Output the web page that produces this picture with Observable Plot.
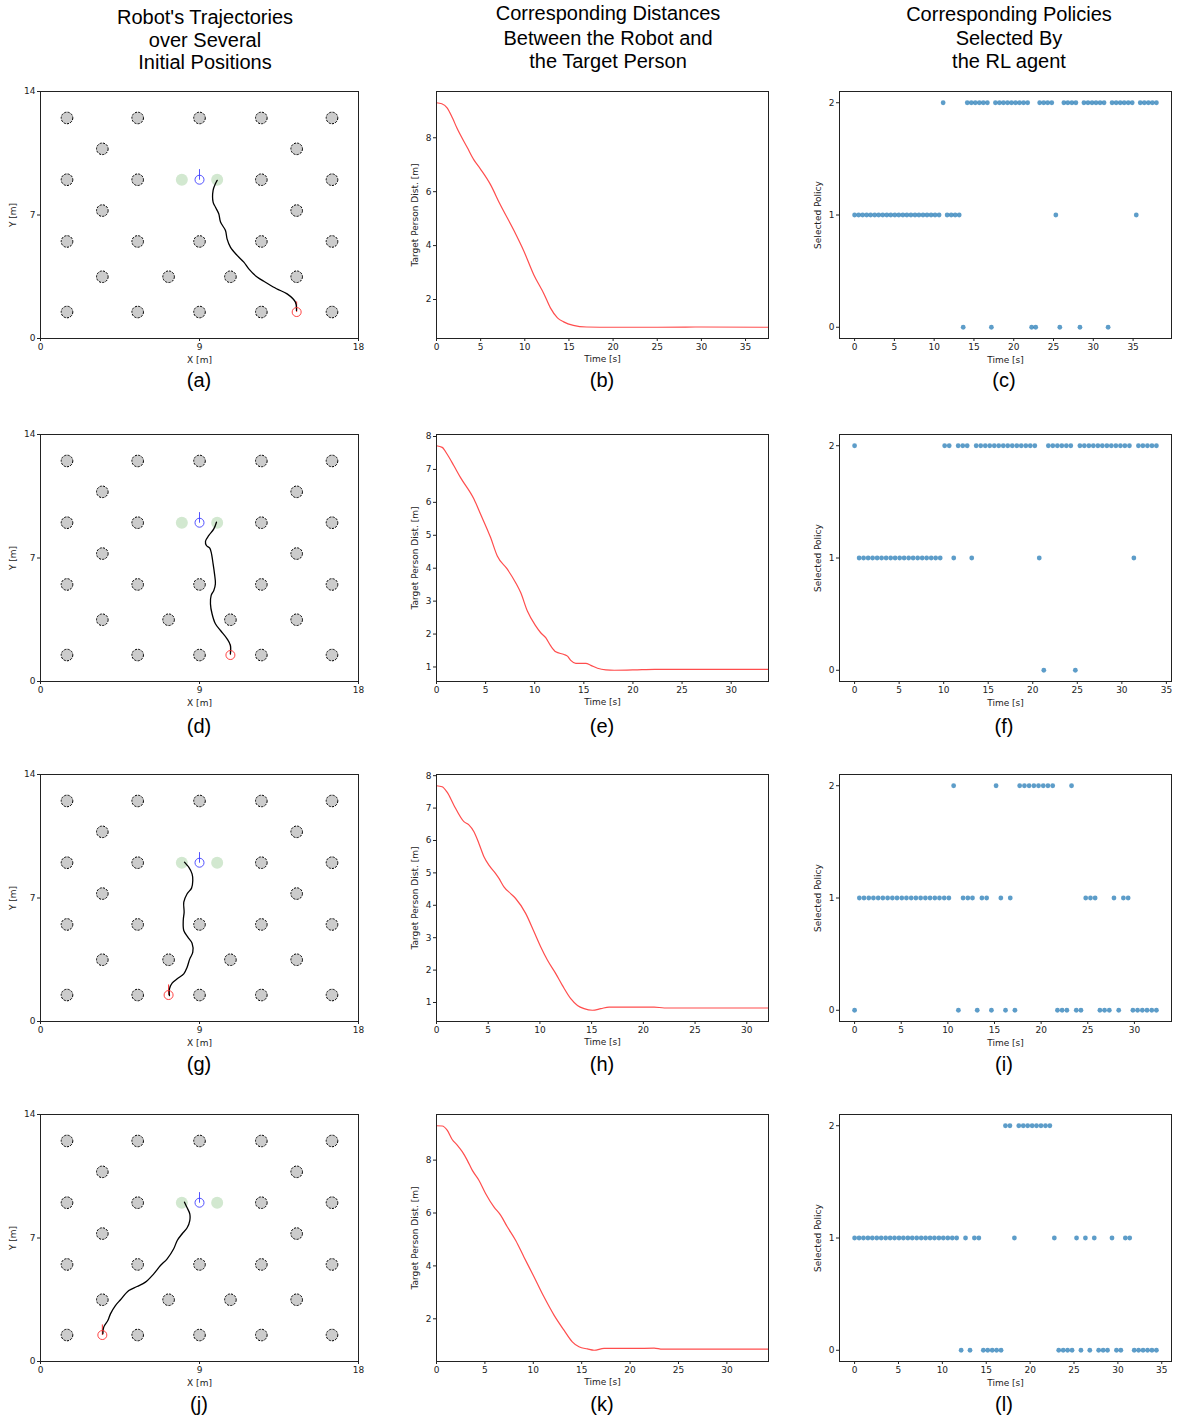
<!DOCTYPE html>
<html><head><meta charset="utf-8">
<script src="https://cdn.jsdelivr.net/npm/d3@7"></script>
<script src="https://cdn.jsdelivr.net/npm/@observablehq/plot@0.6"></script>
<style>
html,body{margin:0;padding:0;background:#fff;}
#root{position:relative;width:1180px;height:1421px;overflow:hidden;font-family:"Liberation Sans",Arial,sans-serif;}
.t{position:absolute;transform:translate(-50%,-50%);font-size:20px;white-space:nowrap;color:#000;line-height:1;}
</style></head><body><div id="root"></div>
<script>
// ---------- DATA ----------
const columnTitles = [
  ["Robot's Trajectories", "over Several", "Initial Positions"],
  ["Corresponding Distances", "Between the Robot and", "the Target Person"],
  ["Corresponding Policies", "Selected By", "the RL agent"]
];
const panelLetters = ["(a)","(b)","(c)","(d)","(e)","(f)","(g)","(h)","(i)","(j)","(k)","(l)"];

const obstacleX = [1.5,5.5,9,12.5,16.5, 3.5,14.5, 1.5,5.5,12.5,16.5, 3.5,14.5, 1.5,5.5,9,12.5,16.5, 3.5,7.25,10.75,14.5, 1.5,5.5,9,12.5,16.5];
const obstacleY = [12.5,12.5,12.5,12.5,12.5, 10.75,10.75, 9,9,9,9, 7.25,7.25, 5.5,5.5,5.5,5.5,5.5, 3.5,3.5,3.5,3.5, 1.5,1.5,1.5,1.5,1.5];
const helperX = [8, 10];
const helperY = [9, 9];
const targetX = [9];
const targetY = [9];
const targetHeadY = [9.6];
const startX = [14.5, 10.75, 7.25, 3.5];
const startY = [1.5, 1.5, 1.5, 1.5];
const startHeadY = [2.1, 2.1, 2.1, 2.1];

const trajAX = [14.49,14.43,13.96,13.36,12.73,12.26,11.79,11.51,11.13,10.75,10.56,10.47,10.19,10.09,9.9,9.77,9.77,9.9,10.0];
const trajAY = [1.59,2.06,2.53,2.82,3.19,3.48,3.95,4.33,4.71,5.18,5.65,6.12,6.6,7.07,7.45,7.73,8.39,8.77,8.96];
const trajDX = [10.75,10.75,10.56,10.19,9.9,9.71,9.62,9.66,9.81,9.9,9.85,9.77,9.66,9.58,9.39,9.34,9.53,9.81,9.96];
const trajDY = [1.57,2.04,2.42,2.89,3.27,3.84,4.4,4.88,5.16,5.54,6.1,6.67,7.33,7.56,7.71,7.95,8.28,8.65,9.03];
const trajGX = [7.3,7.3,7.45,7.74,8.11,8.3,8.45,8.62,8.58,8.34,8.11,8.08,8.13,8.11,8.3,8.55,8.62,8.58,8.39,8.15];
const trajGY = [1.47,1.85,2.17,2.42,2.7,3.08,3.55,3.93,4.44,4.78,5.16,5.73,6.2,6.76,7.24,7.56,7.99,8.37,8.75,9.03];
const trajJX = [3.53,3.58,3.81,3.96,4.24,4.53,5.0,5.47,5.94,6.41,6.79,7.17,7.54,7.74,8.02,8.3,8.45,8.45,8.3,8.15];
const trajJY = [1.57,1.95,2.32,2.7,3.17,3.5,4.02,4.25,4.5,4.97,5.44,5.82,6.39,6.86,7.24,7.58,7.99,8.37,8.71,9.03];

const distTimeB = [0,0.6,1.2,1.8,2.3,3.5,4.2,5,6.1,7.2,8.8,9.9,11,12.2,12.9,13.7,14.4,15.5,17,20,25,30,37.6];
const distB = [9.3,9.26,9.11,8.74,8.37,7.63,7.2,6.83,6.27,5.53,4.54,3.79,2.93,2.19,1.69,1.32,1.17,1.04,0.98,0.97,0.97,0.98,0.97];
const distTimeE = [0,0.58,1.09,1.77,2.45,3.81,4.49,5.51,6.19,7.21,8.06,8.57,9.25,10.1,10.61,11.12,11.63,12.14,12.99,13.33,13.67,14.18,15.2,15.71,16.39,17.24,18.1,20.1,22.2,33.8];
const distE = [7.72,7.67,7.46,7.11,6.75,6.1,5.64,4.93,4.37,3.97,3.56,3.26,2.7,2.25,2.04,1.89,1.64,1.46,1.38,1.33,1.2,1.11,1.11,1.05,0.96,0.91,0.9,0.91,0.93,0.93];
const distTimeH = [0,0.55,1.03,1.68,2.65,3.13,3.62,4.1,4.59,5.07,5.72,6.04,6.52,7.17,7.65,8.62,9.43,10.07,10.72,11.53,12.17,12.98,13.63,14.27,15.08,15.89,16.69,19.12,21.05,22.02,23,32.1];
const distH = [7.69,7.66,7.49,7.09,6.58,6.48,6.27,5.91,5.5,5.24,4.98,4.83,4.57,4.36,4.21,3.75,3.18,2.72,2.31,1.89,1.53,1.12,0.91,0.81,0.76,0.81,0.86,0.86,0.86,0.83,0.83,0.83];
const distTimeK = [0,0.59,1.1,1.62,2.14,2.66,3.17,3.69,4.38,5.07,5.93,6.62,7.31,8.17,9.03,10.07,11.1,12.14,13.17,14.03,14.72,15.59,16.28,17.31,20.41,22.48,23.34,34.3];
const distK = [9.3,9.29,9.13,8.78,8.57,8.32,8.0,7.62,7.24,6.74,6.23,5.92,5.48,4.97,4.34,3.59,2.83,2.14,1.57,1.13,0.94,0.86,0.81,0.88,0.88,0.89,0.85,0.85];

const stepTimes = [0,0.51,1.01,1.52,2.02,2.53,3.03,3.54,4.05,4.55,5.06,5.56,6.07,6.57,7.08,7.59,8.09,8.6,9.1,9.61,10.11,10.62,11.13,11.63,12.14,12.64,13.15,13.65,14.16,14.67,15.17,15.68,16.18,16.69,17.19,17.7,18.21,18.71,19.22,19.72,20.23,20.73,21.24,21.75,22.25,22.76,23.26,23.77,24.27,24.78,25.29,25.79,26.3,26.8,27.31,27.81,28.32,28.82,29.33,29.84,30.34,30.85,31.35,31.86,32.36,32.87,33.38,33.88,34.39,34.89,35.4,35.9,36.41,36.92,37.42,37.93];
const policyC = [1,1,1,1,1,1,1,1,1,1,1,1,1,1,1,1,1,1,1,1,1,1, 2, 1,1,1,1, 0, 2,2,2,2,2,2, 0, 2,2,2,2,2,2,2,2,2, 0,0, 2,2,2,2, 1, 0, 2,2,2,2, 0, 2,2,2,2,2,2, 0, 2,2,2,2,2,2, 1, 2,2,2,2,2];
const policyF = [2, 1,1,1,1,1,1,1,1,1,1,1,1,1,1,1,1,1,1,1, 2,2, 1, 2,2,2, 1, 2,2,2,2,2,2,2,2,2,2,2,2,2,2, 1, 0, 2,2,2,2,2,2, 0, 2,2,2,2,2,2,2,2,2,2,2,2, 1, 2,2,2,2,2];
const policyI = [0, 1,1,1,1,1,1,1,1,1,1,1,1,1,1,1,1,1,1,1,1, 2, 0, 1,1,1, 0, 1,1, 0, 2, 1, 0, 1, 0, 2,2,2,2,2,2,2,2, 0,0,0, 2, 0,0, 1,1,1, 0,0,0, 1, 0, 1,1, 0,0,0,0,0,0];
const policyL = [1,1,1,1,1,1,1,1,1,1,1,1,1,1,1,1,1,1,1,1,1,1,1,1, 0, 1, 0, 1,1, 0,0,0,0,0, 2,2, 1, 2,2,2,2,2,2,2,2, 1, 0,0,0,0, 1, 0, 1, 0, 1, 0,0,0, 1, 0,0, 1,1, 0,0,0,0,0,0];

// ---------- LAYOUT ----------
const root = document.getElementById("root");
const FONT = "DejaVu Sans";
const colLeft = [0, 400, 800];
const colMargins = [[40, 22], [36, 12], [39, 9]];
const rowTop = [91, 434, 774, 1114];
const frameH = 247, mTop = 20, mBottom = 40;
const intFmt = d3.format("d");

function addText(txt, x, y, size) {
  const d = document.createElement("div");
  d.className = "t"; d.textContent = txt;
  d.style.left = x + "px"; d.style.top = y + "px";
  if (size) d.style.fontSize = size + "px";
  root.appendChild(d);
}

function place(col, row, x, y, marks) {
  const [ml, mr] = colMargins[col];
  const svg = Plot.plot({
    width: 380, height: mTop + frameH + mBottom,
    marginLeft: ml, marginRight: mr, marginTop: mTop, marginBottom: mBottom,
    style: {fontFamily: FONT, fontSize: "9px", color: "#222", background: "transparent", overflow: "visible"},
    x, y, marks
  });
  svg.style.position = "absolute";
  svg.style.left = colLeft[col] + "px";
  svg.style.top = (rowTop[row] - mTop) + "px";
  root.appendChild(svg);
}

const zip = (xs, ys) => xs.map((x, i) => ({x, y: ys[i]}));
const axisStyle = {tickSize: 3, tickPadding: 2, label: null, tickFormat: intFmt};
const yLabel = (txt, dx) => Plot.text([txt], {frameAnchor: "left", textAnchor: "middle", dx, rotate: -90});
const xLabel = (txt, dy) => Plot.text([txt], {frameAnchor: "bottom", textAnchor: "middle", dy});

function trajMarks(tx, ty, k) {
  return [
    Plot.dot(zip(obstacleX, obstacleY), {x: "x", y: "y", r: 5.8, fill: "#cccccc", stroke: "#000", strokeWidth: 1, strokeDasharray: "2.2,1.2"}),
    Plot.dot(zip(helperX, helperY), {x: "x", y: "y", r: 6, fill: "#d2e8d0"}),
    Plot.link(targetX.map((x, i) => ({x, y1: targetY[i], y2: targetHeadY[i]})), {x1: "x", x2: "x", y1: "y1", y2: "y2", stroke: "#4040ff", strokeWidth: 0.9}),
    Plot.dot(zip(targetX, targetY), {x: "x", y: "y", r: 4.5, stroke: "#4040ff", fill: "none", strokeWidth: 0.9}),
    Plot.link([{x: startX[k], y1: startY[k], y2: startHeadY[k]}], {x1: "x", x2: "x", y1: "y1", y2: "y2", stroke: "#ff3030", strokeWidth: 1}),
    Plot.line(zip(tx, ty), {x: "x", y: "y", stroke: "#000", strokeWidth: 1.3, curve: "catmull-rom"}),
    Plot.dot([{x: startX[k], y: startY[k]}], {x: "x", y: "y", r: 4.5, stroke: "#ff3030", fill: "none", strokeWidth: 0.9}),
    Plot.frame({stroke: "#222", strokeWidth: 1}),
    Plot.axisX({...axisStyle, ticks: [0, 9, 18]}),
    Plot.axisY({...axisStyle, ticks: [0, 7, 14]}),
    xLabel("X [m]", 24),
    yLabel("Y [m]", -27)
  ];
}

function distPanel(row, ts, ds) {
  const [lo, hi] = d3.extent(ds);
  const pad = (hi - lo) * 0.05;
  const tmax = ts[ts.length - 1];
  const yTicks = hi > 8.5 ? [2, 4, 6, 8] : [1, 2, 3, 4, 5, 6, 7, 8];
  place(1, row,
    {domain: [0, tmax]},
    {domain: [lo - pad, hi + pad]},
    [
      Plot.line(zip(ts, ds), {x: "x", y: "y", stroke: "#ff4d4d", strokeWidth: 1.2, curve: "monotone-x"}),
      Plot.frame({stroke: "#222", strokeWidth: 1}),
      Plot.axisX({...axisStyle, ticks: d3.range(0, tmax + 0.01, 5)}),
      Plot.axisY({...axisStyle, ticks: yTicks}),
      xLabel("Time [s]", 23),
      yLabel("Target Person Dist. [m]", -21)
    ]);
}

function policyPanel(row, pol) {
  const ts = stepTimes.slice(0, pol.length);
  const tmax = ts[ts.length - 1];
  const pad = tmax * 0.05;
  place(2, row,
    {domain: [-pad, tmax + pad]},
    {domain: [-0.1, 2.1]},
    [
      Plot.dot(zip(ts, pol), {x: "x", y: "y", r: 2.4, fill: "#1f77b4", fillOpacity: 0.72}),
      Plot.frame({stroke: "#222", strokeWidth: 1}),
      Plot.axisX({...axisStyle, ticks: d3.range(0, tmax + pad, 5)}),
      Plot.axisY({...axisStyle, ticks: [0, 1, 2]}),
      xLabel("Time [s]", 24),
      yLabel("Selected Policy", -21)
    ]);
}

// column titles
const titleX = [205, 608, 1009];
const titleY = [[17, 40, 62], [13, 38, 61], [14, 38, 61]];
columnTitles.forEach((lines, c) => lines.forEach((l, i) => addText(l, titleX[c], titleY[c][i])));

// panels
const trajs = [[trajAX, trajAY], [trajDX, trajDY], [trajGX, trajGY], [trajJX, trajJY]];
trajs.forEach(([tx, ty], r) => place(0, r, {domain: [0, 18]}, {domain: [0, 14]}, trajMarks(tx, ty, r)));
[[distTimeB, distB], [distTimeE, distE], [distTimeH, distH], [distTimeK, distK]].forEach(([t, d], r) => distPanel(r, t, d));
[policyC, policyF, policyI, policyL].forEach((p, r) => policyPanel(r, p));

// panel letters
const letterX = [199, 602, 1004];
const letterY = [380, 726, 1064, 1404];
panelLetters.forEach((s, i) => addText(s, letterX[i % 3], letterY[Math.floor(i / 3)]));
</script></body></html>
